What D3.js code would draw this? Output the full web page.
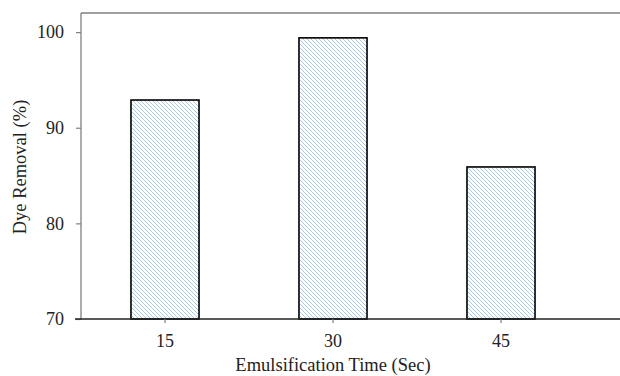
<!DOCTYPE html>
<html><head><meta charset="utf-8">
<script src="https://cdn.jsdelivr.net/npm/d3@7"></script>
<style>body{margin:0;background:#fff;}svg{display:block;}</style>
</head><body>
<svg id="c" width="620" height="376"></svg>
<script>
const categories = ["15", "30", "45"];
const values = [92.9, 99.4, 85.9];
const yTicks = [70, 80, 90, 100];

const svg = d3.select("#c");
const x = d3.scaleBand().domain(categories).range([81, 585]).paddingInner(0.595).paddingOuter(0.2975);
const y = d3.scaleLinear().domain([70, 102]).range([319, 13]);

const defs = svg.append("defs");
const pat = defs.append("pattern").attr("id", "hatch").attr("patternUnits", "userSpaceOnUse")
  .attr("width", 4).attr("height", 4);
pat.append("rect").attr("width", 4).attr("height", 4).attr("fill", "#fff");
pat.append("path").attr("d", "M-1,-1 L5,5 M-1,3 L1,5 M3,-1 L5,1")
  .attr("stroke", "#9cc4ec").attr("stroke-width", 0.9);

// frame top
svg.append("path").attr("d", `M81,13 H620`).attr("stroke", "#808080").attr("stroke-width", 1.3).attr("fill", "none");

// bars
svg.selectAll("rect.bar").data(values).join("rect").attr("class", "bar")
  .attr("x", (d, i) => x(categories[i]))
  .attr("width", x.bandwidth())
  .attr("y", d => y(d))
  .attr("height", d => y(70) - y(d))
  .attr("fill", "url(#hatch)").attr("stroke", "#000").attr("stroke-width", 1.6);

const font = "'Liberation Serif','Times New Roman',serif";

// y axis
const ya = svg.append("g").attr("transform", "translate(81,0)")
  .call(d3.axisLeft(y).tickValues(yTicks).tickSize(5).tickPadding(12));
ya.select(".domain").attr("stroke", "#808080").attr("stroke-width", 1.3).attr("d", "M0,13V319");
ya.selectAll(".tick line").attr("stroke", "#808080").attr("stroke-width", 1.2);
ya.selectAll(".tick text").attr("font-family", font).attr("font-size", 18).attr("fill", "#222");

// x axis
const xa = svg.append("g").attr("transform", "translate(0,319)")
  .call(d3.axisBottom(x).tickSize(4).tickPadding(11));
xa.select(".domain").attr("stroke", "#222").attr("stroke-width", 1.3).attr("d", "M75,0H620");
xa.selectAll(".tick line").attr("stroke", "#808080").attr("stroke-width", 1.2);
xa.selectAll(".tick text").attr("font-family", font).attr("font-size", 18).attr("fill", "#222");

svg.append("text").attr("x", 333).attr("y", 371).attr("text-anchor", "middle")
  .attr("font-family", font).attr("font-size", 18.5).attr("fill", "#222")
  .text("Emulsification Time (Sec)");
svg.append("text").attr("transform", "translate(26,167) rotate(-90)").attr("text-anchor", "middle")
  .attr("font-family", font).attr("font-size", 18.5).attr("fill", "#222")
  .text("Dye Removal (%)");
</script>
</body></html>
